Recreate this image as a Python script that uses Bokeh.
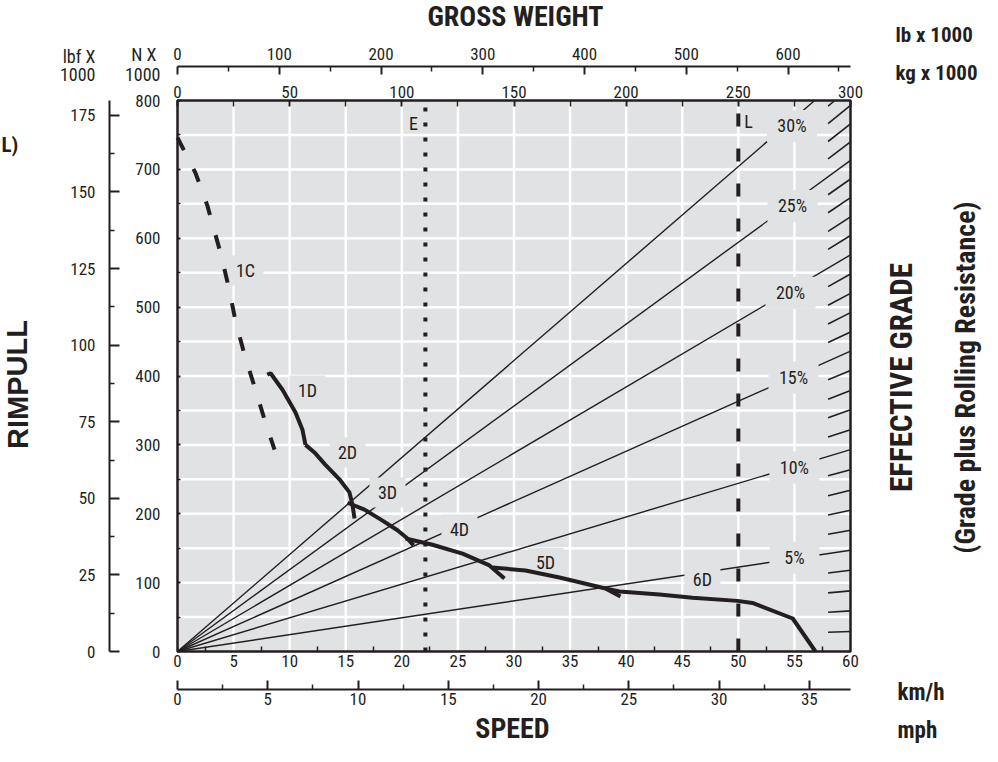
from bokeh.plotting import figure
from bokeh.models import Range1d, LinearAxis, FixedTicker, Label, ColumnDataSource
from bokeh.embed import file_html
from bokeh.resources import INLINE
from bokeh.core.properties import value

# ---------------- data ----------------
speed_ticks_kmh = [0, 5, 10, 15, 20, 25, 30, 35, 40, 45, 50, 55, 60]
speed_minor_kmh = [2.5, 7.5, 12.5, 17.5, 22.5, 27.5, 32.5, 37.5, 42.5, 47.5, 52.5, 57.5]
speed_ticks_mph = [0, 5, 10, 15, 20, 25, 30, 35]
speed_minor_mph = [2.5, 7.5, 12.5, 17.5, 22.5, 27.5, 32.5]
rimpull_ticks_kn = [0, 100, 200, 300, 400, 500, 600, 700, 800]
rimpull_minor_kn = [50, 150, 250, 350, 450, 550, 650, 750]
rimpull_ticks_klbf = [0, 25, 50, 75, 100, 125, 150, 175]
rimpull_minor_klbf = [12.5, 37.5, 62.5, 87.5, 112.5, 137.5, 162.5]
weight_ticks_t = [0, 50, 100, 150, 200, 250, 300]
weight_minor_t = [25, 75, 125, 175, 225, 275]
weight_ticks_klb = [0, 100, 200, 300, 400, 500, 600]
weight_minor_klb = [50, 150, 250, 350, 450, 550, 650]
grid_speed = [5, 10, 15, 20, 25, 30, 35, 40, 45, 50, 55]
grid_rimpull = [50, 100, 150, 200, 250, 300, 350, 400, 450, 500, 550, 600, 650, 700, 750]
SPEED_MAX, RIMPULL_MAX, WEIGHT_MAX_T = 60, 800, 300

# rimpull curves: speed (km/h) / rimpull (kN)
gear_1c_speed = [0.0, 1.60, 2.67, 3.83, 4.55, 5.17, 5.97, 6.95, 7.85, 8.65]
gear_1c_rimpull = [746, 695, 647, 579, 530, 480, 431, 380, 332, 293]
gear_1d_speed = [8.0, 8.3, 9.36, 10.52, 11.14, 11.41]
gear_1d_rimpull = [402, 404, 380, 347, 322, 300]
gear_2d_speed = [11.41, 12.21, 13.19, 14.44, 15.33, 15.6, 15.78]
gear_2d_rimpull = [300, 289, 271, 250, 231, 213, 193]
gear_3d_speed = [15.16, 16.67, 18.28, 19.61, 20.5, 21.04]
gear_3d_rimpull = [216, 206, 190, 176, 164, 154]
gear_4d_speed = [20.33, 22.73, 25.41, 27.81, 29.15]
gear_4d_rimpull = [164, 155, 142, 125, 106]
gear_5d_speed = [28.08, 31.02, 34.06, 38.16, 39.49]
gear_5d_rimpull = [122, 117.6, 107.4, 91.4, 79.8]
gear_6d_speed = [38.16, 39.4, 42.97, 45.91, 49.93, 51.26, 54.85, 56.88]
gear_6d_rimpull = [91.4, 87.1, 82.7, 78.0, 73.5, 70.5, 47.9, 0]

gear_names = ["1C", "1D", "2D", "3D", "4D", "5D", "6D"]
gear_label_speed = [6.06, 11.59, 15.16, 18.72, 25.14, 32.81, 46.8]
gear_label_rimpull = [553, 379, 289, 231, 177, 129, 104.5]

# effective grade lines: rimpull reached at 60 km/h (right edge) for each grade
grade_pct = list(range(1, 31))
grade_rimpull_at_60 = [29, 59, 88, 118, 147, 176, 205, 234, 264, 293,
                       322, 351, 379, 408, 436, 464, 492, 520, 548, 576,
                       604, 631, 659, 686, 713, 740, 766, 793, 819, 845]
labelled_grades = [5, 10, 15, 20, 25, 30]
grade_label_speed = [55.0, 55.0, 54.92, 54.65, 54.83, 54.78]
grade_label_rimpull = [136, 267, 398, 521, 647, 763]

# gross weights (tonnes): E = empty, L = loaded
weight_names = ["E", "L"]
weight_values_t = [110.5, 250]
weight_label_speed = [21.04, 50.9]
weight_label_rimpull = [766, 769]

# ---------------- layout / style ----------------
FONT = ("'Liberation Sans Narrow', 'Roboto Condensed', 'DejaVu Sans Condensed', "
        "'Arial Narrow', Roboto, sans-serif")
WIDE = "'Liberation Sans', Arial, sans-serif"
INK = "#231f20"
PANEL = "#e1e2e4"
W, H = 982, 746
PAGE = 8
BOX_L, BOX_R, BOX_T, BOX_B = 185, 858, 108, 659      # chart box, page pixels
PX_KMH = (BOX_R - BOX_L) / SPEED_MAX
PX_KN = (BOX_B - BOX_T) / RIMPULL_MAX
HATCH_FROM = 58.0
MPH_PER_KMH = 1 / 1.609344
T_PER_KMH = WEIGHT_MAX_T / SPEED_MAX
KLB_PER_T = 1 / 0.45359237
KLBF_PER_KN = 1 / 4.4482216


def kmh_at(px):
    return (px - BOX_L) / PX_KMH


def kn_at(py):
    return (BOX_B - py) / PX_KN


xs0, xs1 = kmh_at(PAGE), kmh_at(PAGE + W)
ys0, ys1 = kn_at(PAGE + H), kn_at(PAGE)

p = figure(width=W, height=H, x_range=Range1d(xs0, xs1), y_range=Range1d(ys0, ys1),
           x_axis_location=None, y_axis_location=None,
           output_backend="svg", toolbar_location=None, min_border=0,
           background_fill_color="white", border_fill_color="white",
           outline_line_color=None)
p.grid.visible = False
p.extra_x_ranges = {"mph": Range1d(xs0 * MPH_PER_KMH, xs1 * MPH_PER_KMH),
                    "kg": Range1d(xs0 * T_PER_KMH, xs1 * T_PER_KMH),
                    "lb": Range1d(xs0 * T_PER_KMH * KLB_PER_T, xs1 * T_PER_KMH * KLB_PER_T)}
p.extra_y_ranges = {"klbf": Range1d(ys0 * KLBF_PER_KN, ys1 * KLBF_PER_KN)}

# chart box and white grid
p.quad(left=[0], right=[SPEED_MAX], bottom=[0], top=[RIMPULL_MAX],
       fill_color=PANEL, line_color=None)
p.segment(grid_speed, [0] * len(grid_speed), grid_speed, [RIMPULL_MAX] * len(grid_speed),
          line_color="white", line_width=2.5)
p.segment([0] * len(grid_rimpull), grid_rimpull, [SPEED_MAX] * len(grid_rimpull), grid_rimpull,
          line_color="white", line_width=2.5)


def style_axis(ax, standoff, tick_in, minor_in, line=True):
    ax.major_label_text_font = FONT
    ax.major_label_text_font_size = "17px"
    ax.major_label_text_color = INK
    ax.major_label_standoff = standoff
    ax.axis_line_color = INK if line else None
    ax.axis_line_width = 2
    ax.major_tick_line_color = INK
    ax.major_tick_line_width = 2
    ax.minor_tick_line_color = INK
    ax.minor_tick_line_width = 1.5
    ax.major_tick_out = 0
    ax.minor_tick_out = 0
    ax.major_tick_in = tick_in
    ax.minor_tick_in = minor_in


ax_kmh = LinearAxis(ticker=FixedTicker(ticks=speed_ticks_kmh, minor_ticks=speed_minor_kmh),
                    fixed_location=0, bounds=(0, SPEED_MAX))
style_axis(ax_kmh, 3, 0, 5, line=False)
p.add_layout(ax_kmh, "below")

ax_mph = LinearAxis(x_range_name="mph",
                    ticker=FixedTicker(ticks=speed_ticks_mph, minor_ticks=speed_minor_mph),
                    fixed_location=kn_at(697), bounds=(0, SPEED_MAX * MPH_PER_KMH))
style_axis(ax_mph, 3, 9, 5)
p.add_layout(ax_mph, "below")

ax_kn = LinearAxis(ticker=FixedTicker(ticks=rimpull_ticks_kn, minor_ticks=rimpull_minor_kn),
                   fixed_location=0, bounds=(0, RIMPULL_MAX))
style_axis(ax_kn, 17, 3, 3, line=False)
p.add_layout(ax_kn, "left")

ax_lbf = LinearAxis(y_range_name="klbf",
                    ticker=FixedTicker(ticks=rimpull_ticks_klbf, minor_ticks=rimpull_minor_klbf),
                    fixed_location=kmh_at(117), bounds=(0, RIMPULL_MAX * KLBF_PER_KN))
style_axis(ax_lbf, 14, 10, 5)
p.add_layout(ax_lbf, "left")

ax_kg = LinearAxis(x_range_name="kg",
                   ticker=FixedTicker(ticks=weight_ticks_t, minor_ticks=weight_minor_t),
                   fixed_location=RIMPULL_MAX, bounds=(0, WEIGHT_MAX_T))
style_axis(ax_kg, 3, 6, 6, line=False)
p.add_layout(ax_kg, "above")

ax_lb = LinearAxis(x_range_name="lb",
                   ticker=FixedTicker(ticks=weight_ticks_klb, minor_ticks=weight_minor_klb),
                   fixed_location=kn_at(74), bounds=(0, WEIGHT_MAX_T * KLB_PER_T))
style_axis(ax_lb, 7, 8, 5)
p.add_layout(ax_lb, "above")

# ---- effective grade lines (clipped to the chart box) ----
main_x0, main_y0, main_x1, main_y1 = [], [], [], []
hatch_x0, hatch_y0, hatch_x1, hatch_y1 = [], [], [], []
for g, r in zip(grade_pct, grade_rimpull_at_60):
    end_x = SPEED_MAX if r <= RIMPULL_MAX else SPEED_MAX * RIMPULL_MAX / r
    end_y = min(r, RIMPULL_MAX)
    if g in labelled_grades:
        main_x0.append(0); main_y0.append(0); main_x1.append(end_x); main_y1.append(end_y)
    elif r * HATCH_FROM / SPEED_MAX < RIMPULL_MAX:
        hatch_x0.append(HATCH_FROM); hatch_y0.append(r * HATCH_FROM / SPEED_MAX)
        hatch_x1.append(end_x); hatch_y1.append(end_y)
p.segment(main_x0, main_y0, main_x1, main_y1, line_color=INK, line_width=1.4)
p.segment(hatch_x0, hatch_y0, hatch_x1, hatch_y1, line_color=INK, line_width=1.6)

# ---- weight lines E (dotted) and L (dashed) ----
e_x = weight_values_t[0] / T_PER_KMH
l_x = weight_values_t[1] / T_PER_KMH
p.segment([e_x], [0], [e_x], [RIMPULL_MAX], line_color=INK, line_width=4, line_dash="4 11")
p.segment([l_x], [0], [l_x], [RIMPULL_MAX], line_color=INK, line_width=4, line_dash="13 22")

# ---- label backgrounds + labels ----
gear_src = ColumnDataSource(dict(x=gear_label_speed, y=gear_label_rimpull, t=gear_names))
grade_src = ColumnDataSource(dict(x=grade_label_speed, y=grade_label_rimpull,
                                  t=[f"{g}%" for g in labelled_grades]))
p.rect("x", "y", width=36, height=30, width_units="screen", height_units="screen",
       source=gear_src, fill_color=PANEL, line_color=None)
p.rect("x", "y", width=50, height=32, width_units="screen", height_units="screen",
       source=grade_src, fill_color=PANEL, line_color=None)
for src in (gear_src, grade_src):
    p.text("x", "y", text="t", source=src, text_font=value(FONT), text_font_size="18px",
           text_color=INK, text_align="center", text_baseline="middle")
p.text(weight_label_speed, weight_label_rimpull, text=weight_names, text_font=value(FONT),
       text_font_size="18px", text_color=INK, text_align="center", text_baseline="middle")

# ---- rimpull curves ----
p.line(gear_1c_speed, gear_1c_rimpull, line_color=INK, line_width=4, line_dash="14 21")
for xs, ys in [(gear_1d_speed, gear_1d_rimpull), (gear_2d_speed, gear_2d_rimpull),
               (gear_3d_speed, gear_3d_rimpull), (gear_4d_speed, gear_4d_rimpull),
               (gear_5d_speed, gear_5d_rimpull), (gear_6d_speed, gear_6d_rimpull)]:
    p.line(xs, ys, line_color=INK, line_width=4)

# chart box outline
p.quad(left=[0], right=[SPEED_MAX], bottom=[0], top=[RIMPULL_MAX],
       fill_color=None, line_color=INK, line_width=2.5)


# ---- free texts (page pixel positions) ----
def put(text, px, py, size, bold=False, align="center", angle=0.0, font=FONT):
    p.add_layout(Label(x=px - PAGE, y=PAGE + H - py, x_units="screen", y_units="screen",
                       text=text, text_font=font, text_font_size=f"{size}px",
                       text_font_style="bold" if bold else "normal", text_color=INK,
                       text_align=align, text_baseline="middle", angle=angle))


put("GROSS WEIGHT", 523, 24, 28, bold=True)
put("SPEED", 520, 736, 28, bold=True)
put("RIMPULL", 25, 392, 29, bold=True, angle=1.5708, font=WIDE)
put("EFFECTIVE GRADE", 909, 385, 31, bold=True, angle=1.5708)
put("(Grade plus Rolling Resistance)", 973, 385, 28, bold=True, angle=1.5708)
put("lb x 1000", 903, 42, 21, bold=True, align="left")
put("kg x 1000", 903, 80, 21, bold=True, align="left")
put("km/h", 905, 700, 23, bold=True, align="left")
put("mph", 905, 738, 23, bold=True, align="left")
put("L)", 9, 152, 21, bold=True, align="left")
put("lbf X", 103, 63.5, 18, align="right")
put("1000", 103, 82, 18, align="right")
put("N X", 164, 62, 18, align="right")
put("1000", 168, 82, 18, align="right")

open("out.html", "w").write(file_html(p, INLINE))
